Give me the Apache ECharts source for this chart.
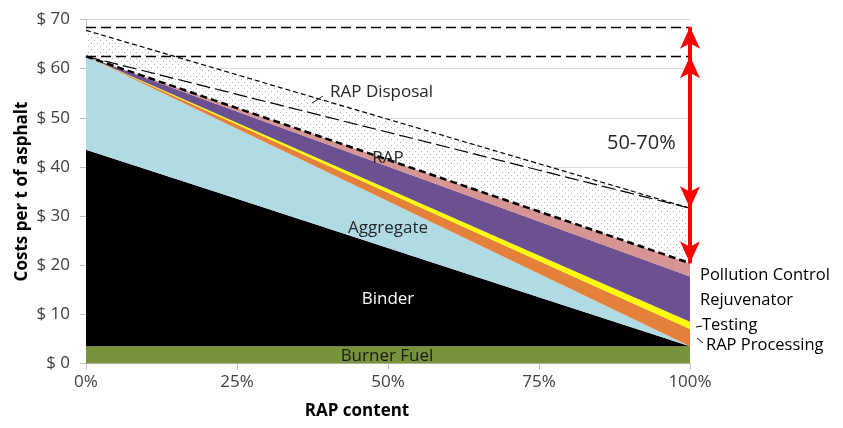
<!DOCTYPE html>
<html><head><meta charset="utf-8">
<script src="https://cdn.jsdelivr.net/npm/echarts@6/dist/echarts.min.js"></script>
<style>html,body{margin:0;padding:0;background:#fff}#c{width:843px;height:428px}</style>
</head><body><div id="c"></div>
<script>
// ---- data ----
const xTickLabels = ['0%', '25%', '50%', '75%', '100%'];   // RAP content
const burnerFuel = [3.5, 3.5, 3.5, 3.5, 3.5];
const binder = [40, 30, 20, 10, 0];
const aggregate = [19, 14.25, 9.5, 4.75, 0];
const rapProcessing = [0, 0.875, 1.75, 2.625, 3.5];
const testing = [0, 0.375, 0.75, 1.125, 1.5];
const rejuvenator = [0, 2.3, 4.6, 6.9, 9.2];
const pollutionControl = [0, 0.675, 1.35, 2.025, 2.7];
const rap = [0, 2.8, 5.6, 8.4, 11.2];
const rapDisposal = [5.3, 3.975, 2.65, 1.325, 0];
const refLevels = [68.5, 62.5];                      // horizontal dashed lines
const arrowRanges = [[68.5, 31.6], [62.5, 20.4]];    // red double arrows at 100%

const FONT = 'Open Sans';
function dots() {
  const c = document.createElement('canvas');
  c.width = 6; c.height = 6;
  const g = c.getContext('2d');
  g.fillStyle = '#ffffff'; g.fillRect(0, 0, 6, 6);
  g.fillStyle = '#a7b2c0';
  g.fillRect(1, 1, 1, 1); g.fillRect(4, 4, 1, 1);
  return c;
}
const pattern = { image: dots(), repeat: 'repeat' };

function area(name, arr, color, line) {
  return {
    name, type: 'line', stack: 'total', symbol: 'none', smooth: false,
    data: arr,
    areaStyle: { color: color, opacity: 1 },
    lineStyle: line || { width: 0 },
    emphasis: { disabled: true }, silent: true, z: 2
  };
}
function txt(x, y, text, font, fill, align) {
  return { type: 'text', x, y, z: 100, silent: true,
    style: { text, font, fill, textAlign: align || 'left', textVerticalAlign: 'middle' } };
}
function seg(x1, y1, x2, y2, c) {
  return { type: 'line', z: 100, silent: true, shape: { x1, y1, x2, y2 }, style: { stroke: c, lineWidth: 1 } };
}

const chart = echarts.init(document.getElementById('c'), null, { renderer: 'canvas' });
const last = xTickLabels[xTickLabels.length - 1];
const option = {
  animation: false,
  grid: { left: 86, right: 153, top: 19.5, bottom: 64.5 },
  xAxis: {
    type: 'category', data: xTickLabels, boundaryGap: false,
    axisLine: { show: true, lineStyle: { color: '#bfbfbf', width: 1 } },
    axisTick: { show: true, length: 6, lineStyle: { color: '#bfbfbf' } },
    splitLine: { show: false },
    axisLabel: { margin: 10, fontFamily: FONT, fontSize: 17, color: '#404040' }
  },
  yAxis: {
    type: 'value', min: 0, max: 70, interval: 10,
    axisLine: { show: true, lineStyle: { color: '#bfbfbf', width: 1 } },
    axisTick: { show: true, length: 6, lineStyle: { color: '#bfbfbf' } },
    splitLine: { show: true, lineStyle: { color: '#d9d9d9', width: 1 } },
    axisLabel: { margin: 16, fontFamily: FONT, fontSize: 17, color: '#404040',
      formatter: v => '$ ' + v }
  },
  series: [
    area('Burner Fuel', burnerFuel, '#77933c'),
    area('Binder', binder, '#000000'),
    area('Aggregate', aggregate, '#b0dbe5'),
    area('RAP Processing', rapProcessing, '#e5803a'),
    area('Testing', testing, '#ffff00'),
    area('Rejuvenator', rejuvenator, '#6b5191'),
    area('Pollution Control', pollutionControl, '#d69592',
      { width: 2.5, color: '#000', type: [7, 4] }),
    area('RAP', rap, pattern, { width: 1.2, color: '#000', type: [14, 5] }),
    area('RAP Disposal', rapDisposal, pattern, { width: 1.2, color: '#000', type: [5, 3] }),
    {
      name: 'refs', type: 'line', data: [], silent: true, z: 5,
      markLine: {
        silent: true, symbol: 'none', label: { show: false },
        lineStyle: { color: '#000', width: 1.3, type: [10, 5] },
        data: refLevels.map(v => ({ yAxis: v }))
      }
    },
    {
      name: 'arrows', type: 'line', data: [], silent: true, z: 6,
      markLine: {
        silent: true, symbol: ['arrow', 'arrow'], symbolSize: [15, 22],
        label: { show: false },
        lineStyle: { color: '#ff0000', width: 4, type: 'solid' },
        data: arrowRanges.map(r => [{ coord: [last, r[0]] }, { coord: [last, r[1]] }])
      }
    }
  ],
  graphic: [
    { type: 'text', rotation: Math.PI / 2, x: 22, y: 191.5, z: 100,
      style: { text: 'Costs per t of asphalt', font: 'bold 17px "Open Sans"', fill: '#000',
        textAlign: 'center', textVerticalAlign: 'middle' } },
    txt(357, 411, 'RAP content', 'bold 17px "Open Sans"', '#000', 'center'),
    txt(330, 92, 'RAP Disposal', '17px "Open Sans"', '#262626'),
    seg(323, 96, 312, 103, '#262626'),
    txt(388, 158, 'RAP', '17px "Open Sans"', '#262626', 'center'),
    txt(388, 228, 'Aggregate', '17px "Open Sans"', '#262626', 'center'),
    txt(388, 299, 'Binder', '17px "Open Sans"', '#ffffff', 'center'),
    txt(387, 356, 'Burner Fuel', '17px "Open Sans"', '#1a1a1a', 'center'),
    txt(607, 143, '50-70%', '20px "Open Sans"', '#262626'),
    txt(700, 275, 'Pollution Control', '16.5px "Open Sans"', '#000'),
    txt(700, 300, 'Rejuvenator', '16.5px "Open Sans"', '#000'),
    txt(702, 325, 'Testing', '16.5px "Open Sans"', '#000'),
    seg(696, 327, 702, 326, '#000'),
    txt(706, 345, 'RAP Processing', '16.5px "Open Sans"', '#000'),
    seg(697, 338, 703, 343, '#000')
  ]
};
chart.setOption(option);
</script>
</body></html>
